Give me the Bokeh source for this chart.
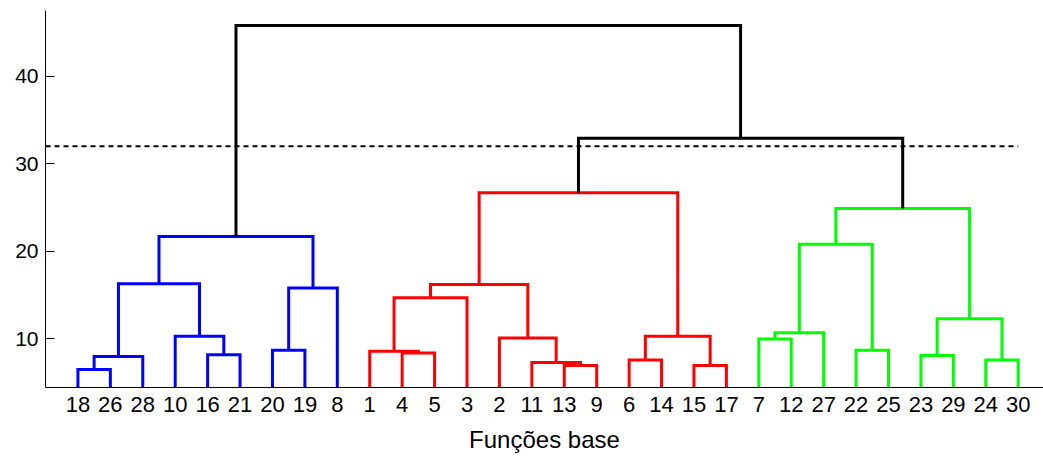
from bokeh.plotting import figure
from bokeh.models import Range1d, FixedTicker, ColumnDataSource
from bokeh.embed import file_html
from bokeh.resources import INLINE

# ---------------- data ----------------
leaf_labels = ["18", "26", "28", "10", "16", "21", "20", "19", "8",
               "1", "4", "5", "3", "2", "11", "13", "9", "6", "14", "15", "17",
               "7", "12", "27", "22", "25", "23", "29", "24", "30"]

# merges: cluster "cK" is the K-th merge
merge_left = ["18", "c0", "16", "10", "c1", "20", "c5", "c4",
              "4", "1", "c9", "13", "11", "2", "c10", "6", "15", "c15", "c14",
              "7", "c19", "22", "c20", "23", "24", "c23", "c22",
              "c18", "c7"]
merge_right = ["26", "28", "21", "c2", "c3", "19", "8", "c6",
               "5", "c8", "3", "9", "c11", "c12", "c13", "14", "17", "c16", "c17",
               "12", "27", "25", "c21", "29", "30", "c24", "c25",
               "c26", "c27"]
merge_height = [6.5, 8.0, 8.2, 10.3, 16.3, 8.7, 15.8, 21.7,
                8.4, 8.6, 14.7, 6.95, 7.3, 10.1, 16.2, 7.6, 6.95, 10.3, 26.7,
                10.0, 10.7, 8.7, 20.8, 8.1, 7.6, 12.3, 24.9,
                32.9, 45.8]

cut_height = 32.0
cluster_colors = ["#0000ff", "#ff0000", "#00ff00"]
above_color = "#000000"
x_label = "Funções base"
y_ticks = [10, 20, 30, 40]

# ---------------- geometry ----------------
pos = {lab: i + 1 for i, lab in enumerate(leaf_labels)}
hgt = {lab: 0.0 for lab in leaf_labels}
for k, (a, b, h) in enumerate(zip(merge_left, merge_right, merge_height)):
    name = "c%d" % k
    pos[name] = (pos[a] + pos[b]) / 2.0
    hgt[name] = h

children = {"c%d" % k: (a, b) for k, (a, b) in enumerate(zip(merge_left, merge_right))}
color_of = {}
counter = [0]


def assign(node, inherited):
    if node not in children:
        return
    if inherited is not None:
        c = inherited
    elif hgt[node] < cut_height:
        c = cluster_colors[counter[0] % len(cluster_colors)]
        counter[0] += 1
    else:
        c = None
    color_of[node] = c if c is not None else above_color
    for ch in children[node]:
        assign(ch, c)


root = "c%d" % (len(merge_height) - 1)
assign(root, None)

y_bottom = 4.45
xs, ys, cols = [], [], []
for k, (a, b, h) in enumerate(zip(merge_left, merge_right, merge_height)):
    name = "c%d" % k
    ha = hgt[a] if hgt[a] > 0 else y_bottom
    hb = hgt[b] if hgt[b] > 0 else y_bottom
    xs.append([pos[a], pos[a], pos[b], pos[b]])
    ys.append([ha, h, h, hb])
    cols.append(color_of[name])

src = ColumnDataSource(dict(xs=xs, ys=ys, color=cols))

# ---------------- figure ----------------
p = figure(width=1043, height=457, output_backend="svg", toolbar_location=None,
           x_range=Range1d(0, 30.78), y_range=Range1d(y_bottom, 47.5),
           min_border_left=45, min_border_right=0, min_border_top=10,
           min_border_bottom=70, background_fill_color="white",
           border_fill_color="white")
p.outline_line_color = None
p.grid.visible = False

p.multi_line(xs="xs", ys="ys", line_color="color", line_width=3,
             line_join="miter", source=src)

p.line([0, 30], [cut_height, cut_height], line_color="black", line_width=1.8,
       line_dash="5 4")

# axes
xa = p.xaxis[0]
xa.ticker = FixedTicker(ticks=list(range(1, len(leaf_labels) + 1)))
xa.major_label_overrides = {i + 1: lab for i, lab in enumerate(leaf_labels)}
xa.major_tick_in = 0
xa.major_tick_out = 0
xa.minor_tick_line_color = None
xa.major_label_standoff = 9
xa.major_label_text_font = "Liberation Sans"
xa.major_label_text_font_size = "22px"
xa.major_label_text_color = "black"
xa.axis_label = x_label
xa.axis_label_text_font = "Liberation Sans"
xa.axis_label_text_font_size = "24px"
xa.axis_label_text_font_style = "normal"
xa.axis_label_text_color = "black"
xa.axis_label_standoff = 11
xa.axis_line_color = "black"

ya = p.yaxis[0]
ya.ticker = FixedTicker(ticks=y_ticks)
ya.major_tick_in = 9
ya.major_tick_out = 0
ya.minor_tick_line_color = None
ya.major_label_standoff = 7
ya.major_label_text_font = "Liberation Sans"
ya.major_label_text_font_size = "21px"
ya.major_label_text_color = "black"
ya.axis_line_color = "black"
ya.major_tick_line_color = "black"

open("out.html", "w").write(file_html(p, INLINE))
